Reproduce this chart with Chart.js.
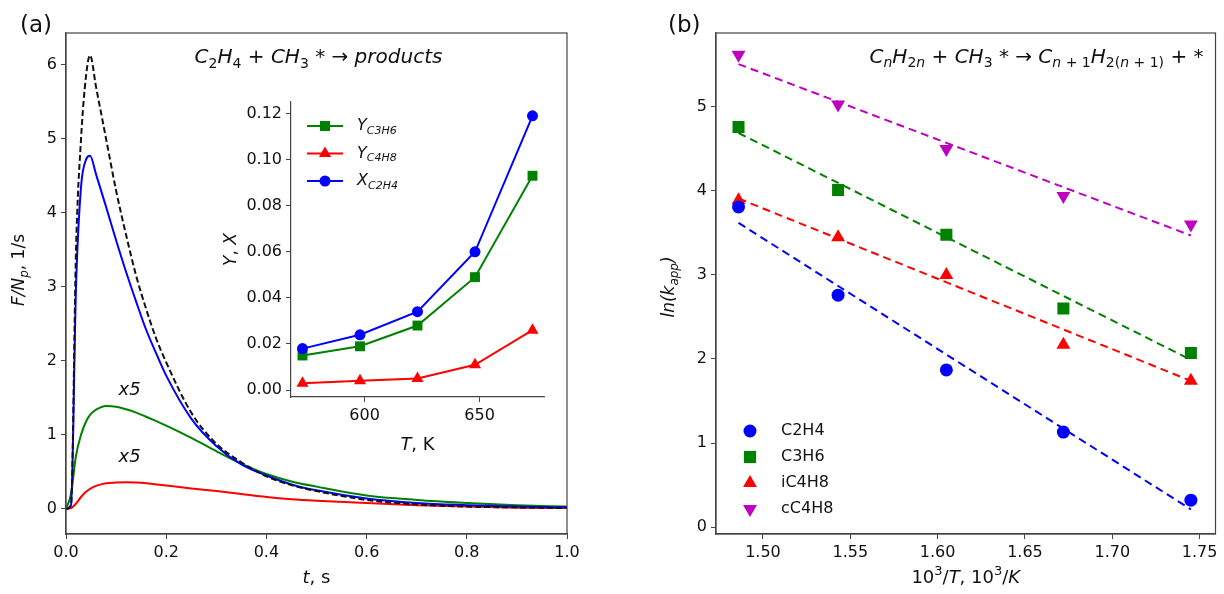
<!DOCTYPE html>
<html>
<head>
<meta charset="utf-8">
<script src="https://cdn.jsdelivr.net/npm/chart.js"></script>
<style>
  body { margin: 0; background: #fff; }
  #wrap { position: relative; width: 1224px; height: 594px; overflow: hidden; }
  canvas { position: absolute; }
</style>
</head>
<body>
<div id="wrap">
  <canvas id="chartA" width="612" height="594" style="left:0;top:0"></canvas>
  <canvas id="chartInset" width="370" height="390" style="left:200px;top:80px"></canvas>
  <canvas id="chartB" width="612" height="594" style="left:612px;top:0"></canvas>
</div>
<script>
// (a) transient responses, F/Np in 1/s (C3H6 and C4H8 shown x5)
const timeS     = [0, 0.01, 0.02, 0.03, 0.04, 0.048, 0.06, 0.08, 0.1, 0.12, 0.14, 0.16, 0.18, 0.2, 0.25, 0.3, 0.35, 0.4, 0.45, 0.5, 0.6, 0.7, 0.8, 0.9, 1.0];
const totalFlux = [0, 0.05, 3.5, 5.0, 5.85, 6.13, 5.7, 5.0, 4.3, 3.7, 3.15, 2.7, 2.3, 1.98, 1.3, 0.88, 0.63, 0.44, 0.32, 0.24, 0.12, 0.06, 0.03, 0.02, 0.01];
const c2h4Flux  = [0, 0.05, 3.0, 4.35, 4.72, 4.77, 4.52, 4.08, 3.63, 3.2, 2.8, 2.42, 2.1, 1.8, 1.22, 0.85, 0.6, 0.45, 0.33, 0.25, 0.14, 0.08, 0.05, 0.03, 0.02];
const c3h6Flux  = [0, 0.2, 0.72, 1.0, 1.18, 1.27, 1.34, 1.39, 1.38, 1.345, 1.3, 1.245, 1.185, 1.125, 0.96, 0.78, 0.61, 0.47, 0.37, 0.3, 0.18, 0.12, 0.08, 0.05, 0.03];
const c4h8Flux  = [0, 0.01, 0.07, 0.16, 0.23, 0.27, 0.31, 0.345, 0.355, 0.36, 0.355, 0.345, 0.33, 0.315, 0.275, 0.24, 0.2, 0.16, 0.13, 0.11, 0.08, 0.05, 0.03, 0.015, 0.01];
const ticksAX = [0, 0.2, 0.4, 0.6, 0.8, 1.0];
const ticksAY = [0, 1, 2, 3, 4, 5, 6];

// inset: yields / conversion vs T
const insetT = [573, 598, 623, 648, 673];
const yC3H6  = [0.015, 0.019, 0.028, 0.049, 0.093];
const yC4H8  = [0.003, 0.004, 0.005, 0.011, 0.026];
const xC2H4  = [0.018, 0.024, 0.034, 0.060, 0.119];
const ticksInsetX = [600, 650];
const ticksInsetY = [0, 0.02, 0.04, 0.06, 0.08, 0.10, 0.12];

// (b) Arrhenius plot
const invT     = [1.486, 1.543, 1.605, 1.672, 1.745];
const lnC2H4   = [3.81, 2.76, 1.87, 1.13, 0.32];
const lnC3H6   = [4.76, 4.01, 3.48, 2.60, 2.07];
const lnIC4H8  = [3.89, 3.45, 3.00, 2.17, 1.74];
const lnCC4H8  = [5.62, 5.03, 4.50, 3.94, 3.60];
const fitX     = [1.486, 1.745];
const fitC2H4  = [3.62, 0.21];
const fitC3H6  = [4.69, 1.99];
const fitIC4H8 = [3.91, 1.74];
const fitCC4H8 = [5.51, 3.47];
const ticksBX = [1.50, 1.55, 1.60, 1.65, 1.70, 1.75];
const ticksBY = [0, 1, 2, 3, 4, 5];

const FAM = '"DejaVu Sans", sans-serif';
const AX = '#444';

function xy(xs, ys) { return xs.map((x, i) => ({ x: x, y: ys[i] })); }

// text with italic / subscript / superscript pieces
function rich(ctx, parts, x, y, size, align, angle) {
  const fontOf = f => (f.includes('i') ? 'italic ' : '') +
    Math.round(/[bp]/.test(f) ? size * 0.7 : size) + 'px ' + FAM;
  let w = 0;
  parts.forEach(([t, f = '']) => { ctx.font = fontOf(f); w += ctx.measureText(t).width; });
  ctx.save();
  ctx.translate(x, y);
  if (angle) ctx.rotate(angle);
  let cx = align === 'center' ? -w / 2 : align === 'right' ? -w : 0;
  ctx.textBaseline = 'middle';
  ctx.textAlign = 'left';
  ctx.fillStyle = '#111';
  parts.forEach(([t, f = '']) => {
    ctx.font = fontOf(f);
    const dy = f.includes('b') ? size * 0.3 : f.includes('p') ? -size * 0.35 : 0;
    ctx.fillText(t, cx, dy);
    cx += ctx.measureText(t).width;
  });
  ctx.restore();
}

function marker(ctx, style, x, y, r, color) {
  ctx.save();
  ctx.fillStyle = color;
  ctx.beginPath();
  if (style === 'circle') ctx.arc(x, y, r, 0, Math.PI * 2);
  else if (style === 'rect') ctx.rect(x - r * 0.72, y - r * 0.72, r * 1.44, r * 1.44);
  else {
    const s = style === 'down' ? -1 : 1;
    ctx.moveTo(x, y - s * r);
    ctx.lineTo(x + r * 0.87, y + s * r * 0.5);
    ctx.lineTo(x - r * 0.87, y + s * r * 0.5);
  }
  ctx.closePath();
  ctx.fill();
  ctx.restore();
}

function axisOpts(min, max, ticks, fmt, size, fixed) {
  return {
    type: 'linear', min: min, max: max,
    afterBuildTicks: s => { s.ticks = ticks.map(v => ({ value: v })); },
    afterFit: fixed,
    grid: { display: true, drawOnChartArea: false, drawTicks: true, tickLength: 5, color: AX, lineWidth: 1 },
    border: { display: true, color: AX, width: 1.2 },
    ticks: { color: '#111', font: { family: FAM, size: size }, padding: 4, callback: fmt }
  };
}

const framePlugin = {
  id: 'frame',
  afterDraw(chart) {
    const a = chart.chartArea, c = chart.ctx;
    c.save();
    c.strokeStyle = AX; c.lineWidth = 1.2;
    c.strokeRect(a.left, a.top, a.right - a.left, a.bottom - a.top);
    c.restore();
  }
};

// ---------- panel (a)
new Chart(document.getElementById('chartA'), {
  type: 'line',
  data: {
    datasets: [
      { data: xy(timeS, totalFlux), borderColor: '#111', borderDash: [6, 3], borderWidth: 2 },
      { data: xy(timeS, c2h4Flux), borderColor: '#0000ff', borderWidth: 2 },
      { data: xy(timeS, c3h6Flux), borderColor: '#008000', borderWidth: 2 },
      { data: xy(timeS, c4h8Flux), borderColor: '#ff0000', borderWidth: 2 }
    ]
  },
  options: {
    responsive: false, animation: false, devicePixelRatio: 1,
    layout: { padding: { left: 0, right: 45, top: 33, bottom: 0 } },
    elements: { point: { radius: 0 }, line: { cubicInterpolationMode: 'monotone' } },
    plugins: { legend: { display: false }, tooltip: { enabled: false } },
    scales: {
      x: axisOpts(0, 1, ticksAX, v => v.toFixed(1), 16, s => { s.height = 60; }),
      y: axisOpts(-0.34, 6.43, ticksAY, v => String(v), 16, s => { s.width = 66; })
    }
  },
  plugins: [framePlugin, {
    id: 'textA',
    afterDraw(chart) {
      const c = chart.ctx, a = chart.chartArea, sx = chart.scales.x, sy = chart.scales.y;
      rich(c, [['(a)']], 20, 26, 23, 'left');
      rich(c, [['C', 'i'], ['2', 'b'], ['H', 'i'], ['4', 'b'], [' + '], ['CH', 'i'], ['3', 'b'], [' * → '], ['products', 'i']],
        (a.left + a.right) / 2 + 2, 58, 20, 'center');
      rich(c, [['F/N', 'i'], ['p', 'bi'], [', 1/s']], 20, 270, 17, 'center', -Math.PI / 2);
      rich(c, [['t', 'i'], [', s']], (a.left + a.right) / 2, 578, 18, 'center');
      rich(c, [['x5', 'i']], sx.getPixelForValue(0.127), sy.getPixelForValue(1.6), 18, 'center');
      rich(c, [['x5', 'i']], sx.getPixelForValue(0.127), sy.getPixelForValue(0.7), 18, 'center');
    }
  }]
});

// ---------- inset
const insetMarks = [
  { ys: yC3H6, color: '#008000', style: 'rect', r: 7, lab: [['Y', 'i'], ['C3H6', 'bi']] },
  { ys: yC4H8, color: '#ff0000', style: 'triangle', r: 7, lab: [['Y', 'i'], ['C4H8', 'bi']] },
  { ys: xC2H4, color: '#0000ff', style: 'circle', r: 5.5, lab: [['X', 'i'], ['C2H4', 'bi']] }
];
new Chart(document.getElementById('chartInset'), {
  type: 'line',
  data: {
    datasets: insetMarks.slice().reverse().map(m => ({
      data: xy(insetT, m.ys), borderColor: m.color, backgroundColor: m.color, borderWidth: 2,
      pointStyle: m.style, pointRadius: m.r, pointBorderWidth: 0, tension: 0
    }))
  },
  options: {
    responsive: false, animation: false, devicePixelRatio: 1,
    layout: { padding: { left: 0, right: 26, top: 22, bottom: 0 } },
    plugins: { legend: { display: false }, tooltip: { enabled: false } },
    scales: {
      x: axisOpts(568, 678, ticksInsetX, v => String(v), 16, s => { s.height = 73; }),
      y: axisOpts(-0.003, 0.125, ticksInsetY, v => v.toFixed(2), 16, s => { s.width = 91; })
    }
  },
  plugins: [{
    id: 'textInset',
    afterDraw(chart) {
      const c = chart.ctx, a = chart.chartArea;
      insetMarks.forEach((m, i) => {
        const y = 46 + i * 27.5;
        c.save(); c.strokeStyle = m.color; c.lineWidth = 2;
        c.beginPath(); c.moveTo(107, y); c.lineTo(143, y); c.stroke(); c.restore();
        marker(c, m.style === 'triangle' ? 'tri' : m.style, 125, y, m.style === 'circle' ? 5.5 : 7, m.color);
        rich(c, m.lab, 157, y, 16, 'left');
      });
      rich(c, [['Y', 'i'], [', '], ['X', 'i']], 32, (a.top + a.bottom) / 2, 17, 'center', -Math.PI / 2);
      rich(c, [['T', 'i'], [', K']], (a.left + a.right) / 2, 365, 18, 'center');
    }
  }]
});

// ---------- panel (b)
const bSeries = [
  { name: 'C2H4', ys: lnC2H4, fit: fitC2H4, color: '#0000ff', style: 'circle', r: 6.5, rot: 0 },
  { name: 'C3H6', ys: lnC3H6, fit: fitC3H6, color: '#008000', style: 'rect', r: 8.5, rot: 0 },
  { name: 'iC4H8', ys: lnIC4H8, fit: fitIC4H8, color: '#ff0000', style: 'triangle', r: 8, rot: 0 },
  { name: 'cC4H8', ys: lnCC4H8, fit: fitCC4H8, color: '#bf00bf', style: 'triangle', r: 8, rot: 180 }
];
const bSets = [];
bSeries.forEach(s => bSets.push({
  data: xy(invT, s.ys), showLine: false, backgroundColor: s.color, borderColor: s.color,
  pointStyle: s.style, pointRadius: s.r, pointRotation: s.rot, pointBorderWidth: 0
}));
bSeries.forEach(s => bSets.push({
  data: xy(fitX, s.fit), borderColor: s.color, borderDash: [8, 5], borderWidth: 2, pointRadius: 0
}));
new Chart(document.getElementById('chartB'), {
  type: 'line',
  data: { datasets: bSets },
  options: {
    responsive: false, animation: false, devicePixelRatio: 1,
    layout: { padding: { left: 0, right: 8, top: 33, bottom: 0 } },
    plugins: { legend: { display: false }, tooltip: { enabled: false } },
    scales: {
      x: axisOpts(1.4731, 1.7591, ticksBX, v => v.toFixed(2), 16, s => { s.height = 60; }),
      y: axisOpts(-0.083, 5.88, ticksBY, v => String(v), 16, s => { s.width = 104; })
    }
  },
  plugins: [framePlugin, {
    id: 'textB',
    afterDraw(chart) {
      const c = chart.ctx, a = chart.chartArea;
      rich(c, [['(b)']], 56, 26, 23, 'left');
      rich(c, [['C', 'i'], ['n', 'bi'], ['H', 'i'], ['2', 'b'], ['n', 'bi'], [' + '], ['CH', 'i'], ['3', 'b'], [' * → '],
        ['C', 'i'], ['n', 'bi'], [' + 1', 'b'], ['H', 'i'], ['2(', 'b'], ['n', 'bi'], [' + 1)', 'b'], [' + *']],
        a.right - 12, 58, 19.5, 'right');
      rich(c, [['ln(k', 'i'], ['app', 'bi'], [')', 'i']], 58, 287, 17, 'center', -Math.PI / 2);
      rich(c, [['10'], ['3', 'p'], ['/'], ['T', 'i'], [', 10'], ['3', 'p'], ['/'], ['K', 'i']], (a.left + a.right) / 2, 578, 18, 'center');
      bSeries.forEach((s, i) => {
        const y = 431 + i * 26;
        marker(c, s.rot ? 'down' : (s.style === 'triangle' ? 'tri' : s.style), 138, y, s.style === 'rect' ? 8.5 : (s.style === 'circle' ? 6.5 : 8), s.color);
        rich(c, [[s.name]], 169, y, 16, 'left');
      });
    }
  }]
});
</script>
</body>
</html>
